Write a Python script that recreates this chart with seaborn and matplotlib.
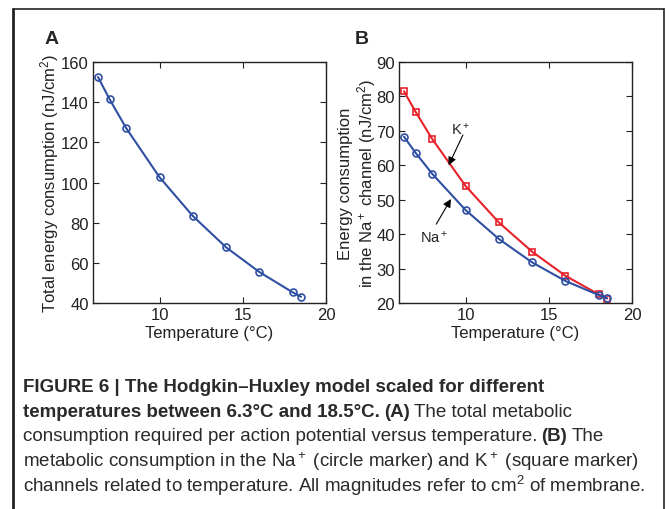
import matplotlib
matplotlib.use('Agg')
import matplotlib.pyplot as plt
from matplotlib.lines import Line2D
import seaborn as sns

# values
temperature = [6.3, 7, 8, 10, 12, 14, 16, 18, 18.5]
total_energy = [152.5, 141.4, 127.0, 102.6, 83.3, 67.7, 55.4, 45.3, 43.1]
na_energy = [68.3, 63.6, 57.5, 47.0, 38.6, 31.8, 26.4, 22.3, 21.4]
k_energy = [81.5, 75.5, 67.6, 54.0, 43.4, 34.9, 27.9, 22.5, 21.3]

BLUE = '#2f4fa3'
RED = '#e8222b'

sns.set_theme(style='ticks')
plt.rcParams['font.family'] = ['Liberation Sans', 'DejaVu Sans']
plt.rcParams['mathtext.fontset'] = 'custom'
plt.rcParams['mathtext.rm'] = 'Liberation Sans'
plt.rcParams['mathtext.it'] = 'Liberation Sans:italic'
plt.rcParams['mathtext.bf'] = 'Liberation Sans:bold'
plt.rcParams['axes.edgecolor'] = '#222222'
plt.rcParams['axes.linewidth'] = 1.0

W, H = 671, 510
fig = plt.figure(figsize=(W / 100, H / 100), dpi=100)
fig.patch.set_facecolor('white')

def px_axes(x0, y0, x1, y1):
    return fig.add_axes([x0 / W, 1 - y1 / H, (x1 - x0) / W, (y1 - y0) / H])

axA = px_axes(93, 63, 326, 304)
axB = px_axes(399, 63, 632, 304)

mk = dict(markersize=5, markerfacecolor='none', markeredgewidth=1.2, linewidth=1.5)
sns.lineplot(x=temperature, y=total_energy, ax=axA, color=BLUE, marker='o',
             markeredgecolor=BLUE, **mk)
sns.lineplot(x=temperature, y=k_energy, ax=axB, color=RED, marker='s',
             markeredgecolor=RED, **mk)
sns.lineplot(x=temperature, y=na_energy, ax=axB, color=BLUE, marker='o',
             markeredgecolor=BLUE, **mk)

for ax in (axA, axB):
    ax.set_xlim(6, 20)
    ax.set_xticks([10, 15, 20])
    ax.tick_params(direction='in', top=True, right=True, length=4, width=0.8,
                   labelsize=12, colors='#222222', pad=3)
    ax.set_xlabel('Temperature (°C)', fontsize=12, labelpad=2, color='#222222')

axA.set_ylim(40, 160)
axA.set_yticks(range(40, 161, 20))
axB.set_ylim(20, 90)
axB.set_yticks(range(20, 91, 10))

axA.set_ylabel('Total energy consumption (nJ/cm$^2$)', fontsize=12, color='#222222')
axB.set_ylabel('Energy consumption\nin the Na$^+$ channel (nJ/cm$^2$)', fontsize=12,
               color='#222222', linespacing=1.1)
for ax, xc in ((axA, -0.185), (axB, -0.176)):
    ax.yaxis.label.set_va('center')
    ax.yaxis.set_label_coords(xc, 0.5)

# arrows with ion labels
arrow = dict(arrowstyle='-|>', color='black', lw=0.8, mutation_scale=12, shrinkA=0, shrinkB=0)
axB.annotate('', xy=(8.98, 60.0), xytext=(9.84, 68.8), arrowprops=arrow)
axB.text(9.68, 70.6, 'K$^+$', fontsize=10.5, ha='center', va='center', color='#222222')
axB.annotate('', xy=(9.12, 50.2), xytext=(8.24, 42.9), arrowprops=arrow)
axB.text(8.12, 39.3, 'Na$^+$', fontsize=10.5, ha='center', va='center', color='#222222')

fig.text(52 / W, 1 - 40 / H, 'A', fontsize=14, fontweight='bold', ha='center', va='center')
fig.text(362 / W, 1 - 40 / H, 'B', fontsize=14, fontweight='bold', ha='center', va='center')

# frame around the figure
fig.add_artist(Line2D([13 / W, 13 / W], [0, 1 - 10 / H], color='#222222', lw=2.0))
fig.add_artist(Line2D([13 / W, 664 / W], [1 - 10 / H, 1 - 10 / H], color='#222222', lw=1.2))
fig.add_artist(Line2D([664 / W, 664 / W], [0, 1 - 10 / H], color='#222222', lw=1.2))

# caption
cap_font = ['Liberation Sans', 'DejaVu Sans']
cap_size = 13.5
renderer = fig.canvas.get_renderer()
space = cap_size * 0.3

caption = [
    [('FIGURE 6 | The Hodgkin–Huxley model scaled for different', 'bold')],
    [('temperatures between 6.3°C and 18.5°C.', 'bold'), ('(A)', 'bold'),
     ('The total metabolic', 'normal')],
    [('consumption required per action potential versus temperature.', 'normal'),
     ('(B)', 'bold'), ('The', 'normal')],
    [('metabolic consumption in the Na$^+$ (circle marker) and K$^+$ (square marker)', 'normal')],
    [('channels related to temperature. All magnitudes refer to cm$^2$ of membrane.', 'normal')],
]
line_y = [388, 413, 437, 462, 486]
for pieces, yy in zip(caption, line_y):
    x = 23
    for txt, weight in pieces:
        t = fig.text(x / W, 1 - yy / H, txt, fontsize=cap_size, fontweight=weight,
                     family=cap_font, va='center', ha='left', color='#2a2a2a')
        bb = t.get_window_extent(renderer)
        x = bb.x1 + space

fig.savefig('out.png', dpi=100, facecolor='white')
